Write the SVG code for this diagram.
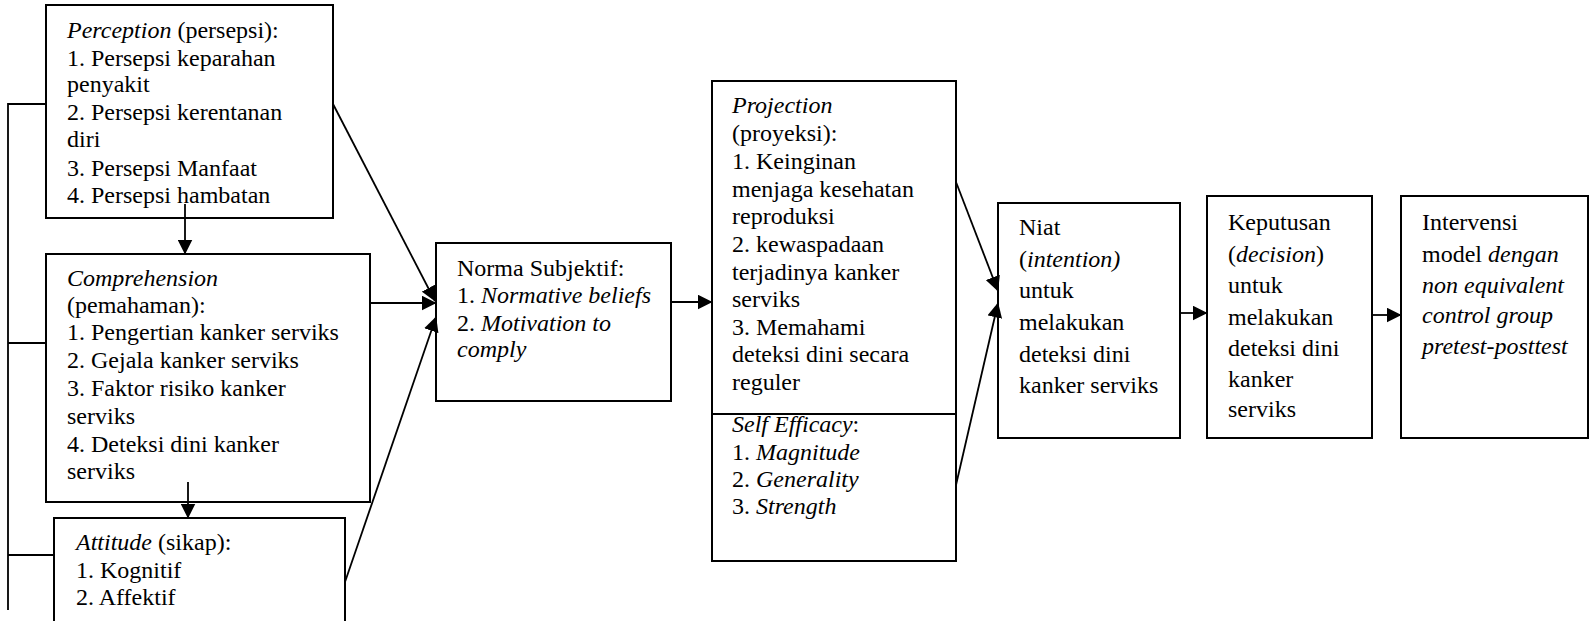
<svg xmlns="http://www.w3.org/2000/svg" width="1593" height="621" viewBox="0 0 1593 621">
<style>
text{font-family:"Liberation Serif","Times New Roman",serif;font-size:24px;fill:#000}
.i{font-style:italic}
.box{fill:#fff;stroke:#000;stroke-width:2}
.ln{fill:none;stroke:#000;stroke-width:1.8}
</style>
<defs>
<marker id="ah" markerUnits="userSpaceOnUse" markerWidth="16" markerHeight="15" refX="14.5" refY="7.5" orient="auto">
<path d="M0,0 L15,7.5 L0,15 Z" fill="#000"/>
</marker>
</defs>
<rect width="1593" height="621" fill="#fff"/>
<g id="perception">
<rect class="box" x="46" y="5" width="287" height="213"/>
<text x="67" y="38"><tspan class="i">Perception</tspan> (persepsi):</text>
<text x="67" y="66">1. Persepsi keparahan</text>
<text x="67" y="92">penyakit</text>
<text x="67" y="120">2. Persepsi kerentanan</text>
<text x="67" y="147">diri</text>
<text x="67" y="176">3. Persepsi Manfaat</text>
<text x="67" y="203">4. Persepsi hambatan</text>
</g>
<g id="comprehension">
<rect class="box" x="46" y="254" width="324" height="248"/>
<text x="67" y="286" class="i">Comprehension</text>
<text x="67" y="313">(pemahaman):</text>
<text x="67" y="340">1. Pengertian kanker serviks</text>
<text x="67" y="368">2. Gejala kanker serviks</text>
<text x="67" y="396">3. Faktor risiko kanker</text>
<text x="67" y="424">serviks</text>
<text x="67" y="452">4. Deteksi dini kanker</text>
<text x="67" y="479">serviks</text>
</g>
<g id="attitude">
<rect class="box" x="54" y="518" width="291" height="110"/>
<text x="76" y="550"><tspan class="i">Attitude</tspan> (sikap):</text>
<text x="76" y="578">1. Kognitif</text>
<text x="76" y="605">2. Affektif</text>
</g>
<g id="norma">
<rect class="box" x="436" y="243" width="235" height="158"/>
<text x="457" y="276">Norma Subjektif:</text>
<text x="457" y="303">1. <tspan class="i">Normative beliefs</tspan></text>
<text x="457" y="331">2. <tspan class="i">Motivation to</tspan></text>
<text x="457" y="357" class="i">comply</text>
</g>
<g id="projection">
<rect class="box" x="712" y="81" width="244" height="480"/>
<line class="ln" x1="712" y1="414" x2="956" y2="414" style="stroke-width:2"/>
<text x="732" y="113" class="i">Projection</text>
<text x="732" y="141">(proyeksi):</text>
<text x="732" y="169">1. Keinginan</text>
<text x="732" y="196.5">menjaga kesehatan</text>
<text x="732" y="224">reproduksi</text>
<text x="732" y="252">2. kewaspadaan</text>
<text x="732" y="279.5">terjadinya kanker</text>
<text x="732" y="307">serviks</text>
<text x="732" y="335">3. Memahami</text>
<text x="732" y="362">deteksi dini secara</text>
<text x="732" y="389.5">reguler</text>
<text x="732" y="432"><tspan class="i">Self Efficacy</tspan>:</text>
<text x="732" y="460">1. <tspan class="i">Magnitude</tspan></text>
<text x="732" y="487">2. <tspan class="i">Generality</tspan></text>
<text x="732" y="514">3. <tspan class="i">Strength</tspan></text>
</g>
<g id="niat">
<rect class="box" x="998" y="203" width="182" height="235"/>
<text x="1019" y="235">Niat</text>
<text x="1019" y="267">(<tspan class="i">intention)</tspan></text>
<text x="1019" y="298">untuk</text>
<text x="1019" y="330">melakukan</text>
<text x="1019" y="362">deteksi dini</text>
<text x="1019" y="393">kanker serviks</text>
</g>
<g id="keputusan">
<rect class="box" x="1207" y="196" width="165" height="242"/>
<text x="1228" y="230">Keputusan</text>
<text x="1228" y="262">(<tspan class="i">decision</tspan>)</text>
<text x="1228" y="293">untuk</text>
<text x="1228" y="325">melakukan</text>
<text x="1228" y="356">deteksi dini</text>
<text x="1228" y="387">kanker</text>
<text x="1228" y="417">serviks</text>
</g>
<g id="intervensi">
<rect class="box" x="1401" y="196" width="187" height="242"/>
<text x="1422" y="230">Intervensi</text>
<text x="1422" y="262">model <tspan class="i">dengan</tspan></text>
<text x="1422" y="293" class="i">non equivalent</text>
<text x="1422" y="323" class="i">control group</text>
<text x="1422" y="354" class="i">pretest-posttest</text>
</g>
<g id="connectors">
<polyline class="ln" points="46,104 8,104 8,610"/>
<line class="ln" x1="8" y1="343" x2="46" y2="343"/>
<line class="ln" x1="8" y1="555" x2="54" y2="555"/>
<line class="ln" x1="185" y1="204" x2="185" y2="254" marker-end="url(#ah)"/>
<line class="ln" x1="188" y1="482" x2="188" y2="518" marker-end="url(#ah)"/>
<line class="ln" x1="333" y1="104" x2="435" y2="301" marker-end="url(#ah)"/>
<line class="ln" x1="370" y1="303" x2="436" y2="303" marker-end="url(#ah)"/>
<line class="ln" x1="345" y1="582" x2="436" y2="317" marker-end="url(#ah)"/>
<line class="ln" x1="671" y1="302" x2="712" y2="302" marker-end="url(#ah)"/>
<line class="ln" x1="956" y1="182" x2="998" y2="291" marker-end="url(#ah)"/>
<line class="ln" x1="956" y1="485" x2="998" y2="303" marker-end="url(#ah)"/>
<line class="ln" x1="1180" y1="313" x2="1207" y2="313" marker-end="url(#ah)"/>
<line class="ln" x1="1372" y1="315" x2="1401" y2="315" marker-end="url(#ah)"/>
</g>
</svg>
